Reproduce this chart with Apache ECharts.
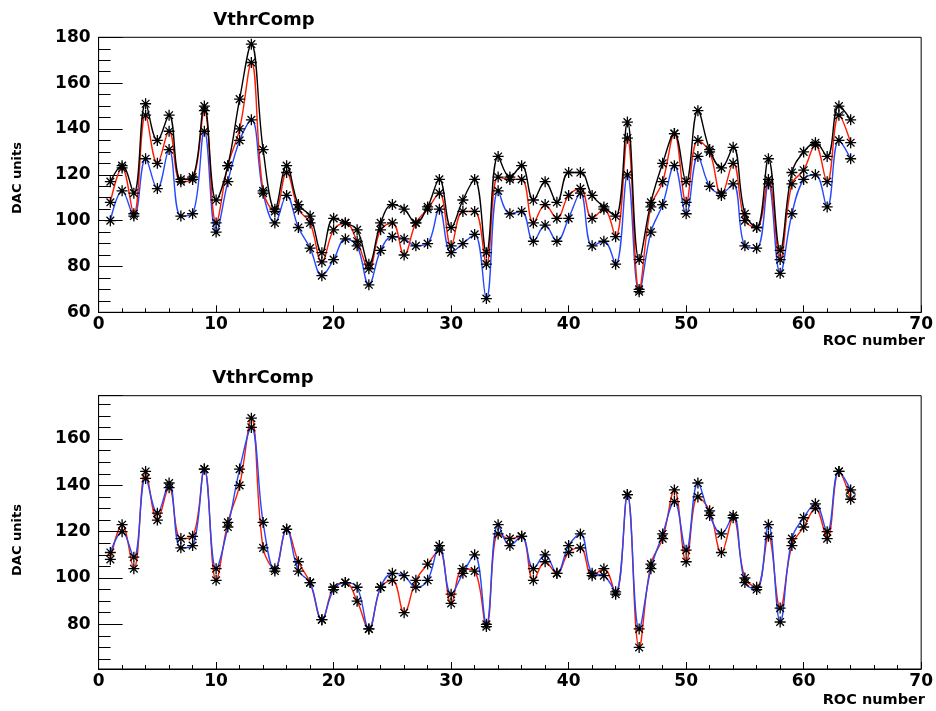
<!DOCTYPE html>
<html>
<head>
<meta charset="utf-8">
<title>VthrComp</title>
<script src="https://cdn.jsdelivr.net/npm/echarts@6/dist/echarts.min.js"></script>
<style>
  html, body { margin: 0; padding: 0; background: #fff; }
  #chart { width: 936px; height: 711px; }
</style>
</head>
<body>
<div id="chart"></div>
<script>
// ROC index along the module
const roc = [1, 2, 3, 4, 5, 6, 7, 8, 9, 10, 11, 12, 13, 14, 15, 16,
  17, 18, 19, 20, 21, 22, 23, 24, 25, 26, 27, 28, 29, 30, 31, 32,
  33, 34, 35, 36, 37, 38, 39, 40, 41, 42, 43, 44, 45, 46, 47, 48,
  49, 50, 51, 52, 53, 54, 55, 56, 57, 58, 59, 60, 61, 62, 63, 64];

// Upper pad: three VthrComp settings per ROC (DAC units)
const topBlack = [117, 124, 112, 151, 135, 146, 118, 119, 150, 109, 124, 153, 177, 131, 105, 124,
  107, 102, 86, 101, 99, 96, 81, 99, 107, 105, 99, 106, 118, 97, 109, 118,
  86, 128, 119, 124, 109, 117, 108, 121, 121, 111, 106, 102, 143, 83, 108, 125,
  138, 117, 148, 131, 123, 132, 103, 97, 127, 87, 121, 130, 134, 128, 150, 144];
const topRed = [108, 123, 103, 146, 125, 139, 117, 118, 148, 99, 124, 140, 169, 113, 104, 121,
  105, 99, 82, 96, 99, 91, 79, 96, 99, 85, 99, 105, 112, 89, 104, 104,
  81, 119, 118, 118, 99, 107, 101, 111, 114, 101, 105, 93, 136, 70, 106, 117,
  138, 108, 135, 130, 111, 125, 100, 97, 118, 83, 116, 122, 133, 117, 146, 134];
const topBlue = [100, 113, 102, 127, 114, 131, 102, 103, 139, 95, 117, 135, 144, 112, 99, 111,
  97, 88, 76, 83, 92, 89, 72, 87, 93, 92, 89, 90, 105, 86, 90, 94,
  66, 113, 103, 104, 91, 98, 91, 101, 112, 89, 91, 81, 120, 69, 95, 107,
  124, 103, 128, 115, 112, 116, 89, 88, 116, 77, 103, 118, 120, 106, 135, 127];
const topOpen = [[63, 148]];

// Lower pad: two settings per ROC (DAC units)
const lowRed = [108, 123, 104, 146, 125, 139, 117, 118, 147, 99, 124, 140, 169, 113, 104, 121,
  107, 98, 82, 96, 98, 90, 78, 96, 99, 85, 99, 106, 112, 89, 104, 103,
  79, 119, 117, 118, 99, 107, 102, 111, 113, 101, 104, 93, 136, 70, 106, 117,
  138, 107, 135, 129, 111, 126, 100, 96, 118, 87, 114, 122, 130, 117, 146, 134];
const lowBlue = [111, 120, 109, 143, 128, 141, 113, 114, 147, 104, 122, 147, 165, 124, 103, 121,
  103, 98, 82, 95, 98, 96, 78, 96, 102, 101, 96, 99, 114, 93, 102, 110,
  80, 123, 114, 118, 104, 110, 102, 114, 119, 102, 101, 94, 136, 78, 104, 119,
  133, 112, 141, 127, 119, 127, 98, 95, 123, 81, 117, 126, 132, 120, 146, 138];
const lowOpen = [[64, 136]];

// Axis ranges and tick labels
const xRange = [0, 70];
const topYRange = [60, 180];
const lowYRange = [60.7, 178.7];
const titleText = 'VthrComp';
const xName = 'ROC number';
const yName = 'DAC units';

const pairs = (xs, ys) => xs.map((x, i) => [x, ys[i]]);

const FONT = '"DejaVu Sans", "Liberation Sans", sans-serif';
const STAR = 'path://M0,5L10,5M5,0L5,10M1.5,1.5L8.5,8.5M8.5,1.5L1.5,8.5';

function xAxisCfg(gridIndex) {
  return {
    type: 'value', gridIndex, min: xRange[0], max: xRange[1], interval: 10,
    axisLine: { show: true, onZero: false, lineStyle: { color: '#000', width: 1 } },
    axisTick: { show: true, inside: true, length: 7, lineStyle: { color: '#000', width: 1 } },
    minorTick: { show: true, splitNumber: 5, length: 4, lineStyle: { color: '#000', width: 1 } },
    splitLine: { show: false },
    axisLabel: { show: true, margin: 4, color: '#000', fontFamily: FONT, fontWeight: 'bold', fontSize: 17 }
  };
}

function yAxisCfg(gridIndex, range, interval) {
  const cfg = {
    type: 'value', gridIndex, min: range[0], max: range[1],
    axisLine: { show: true, onZero: false, lineStyle: { color: '#000', width: 1 } },
    axisTick: { show: true, inside: true, length: 24, lineStyle: { color: '#000', width: 1 } },
    minorTick: { show: true, splitNumber: 4, length: 12, lineStyle: { color: '#000', width: 1 } },
    splitLine: { show: false },
    axisLabel: { show: true, margin: 8, color: '#000', fontFamily: FONT, fontWeight: 'bold', fontSize: 17 }
  };
  if (interval) {
    cfg.interval = interval;
  } else {
    cfg.splitNumber = 5;
    cfg.axisLabel.showMinLabel = false;
    cfg.axisLabel.showMaxLabel = false;
  }
  return cfg;
}

function curve(name, data, color, axisIndex) {
  return {
    name, type: 'line', data, xAxisIndex: axisIndex, yAxisIndex: axisIndex,
    smooth: 0.4, showSymbol: true, symbol: STAR, symbolSize: 11,
    itemStyle: { color: '#000', borderColor: '#000', borderWidth: 1.3 },
    lineStyle: { color, width: 1.4 },
    emphasis: { disabled: true }, animation: false
  };
}

function openMarks(data, axisIndex) {
  return {
    type: 'scatter', data, xAxisIndex: axisIndex, yAxisIndex: axisIndex,
    symbol: 'circle', symbolSize: 9,
    itemStyle: { color: 'rgba(0,0,0,0)', borderColor: '#000', borderWidth: 1.1 },
    emphasis: { disabled: true }, animation: false, z: 5
  };
}

function label(text, x, y, size, align, rotate) {
  return {
    type: 'text', x, y, rotation: rotate ? Math.PI / 2 : 0,
    style: {
      text, fill: '#000', align: align, verticalAlign: 'middle',
      font: 'bold ' + size + 'px ' + FONT
    }
  };
}

const chart = echarts.init(document.getElementById('chart'), null, { renderer: 'canvas' });
chart.setOption({
  backgroundColor: '#fff',
  animation: false,
  grid: [
    { left: 98.6, top: 37.3, width: 825, height: 275, show: true, borderColor: '#000', borderWidth: 1, backgroundColor: 'transparent' },
    { left: 98.6, top: 395.7, width: 825, height: 273.3, show: true, borderColor: '#000', borderWidth: 1, backgroundColor: 'transparent' }
  ],
  xAxis: [xAxisCfg(0), xAxisCfg(1)],
  yAxis: [yAxisCfg(0, topYRange, 20), yAxisCfg(1, lowYRange, null)],
  series: [
    curve('top-blue', pairs(roc, topBlue), '#2448ff', 0),
    curve('top-red', pairs(roc, topRed), '#ff1a00', 0),
    curve('top-black', pairs(roc, topBlack), '#000000', 0),
    openMarks(topOpen, 0),
    curve('low-red', pairs(roc, lowRed), '#ff1a00', 1),
    curve('low-blue', pairs(roc, lowBlue), '#2448ff', 1),
    openMarks(lowOpen, 1)
  ],
  graphic: [
    label(titleText, 264, 20, 18, 'center', false),
    label(titleText, 263, 378, 18, 'center', false),
    label(xName, 925, 341, 14.5, 'right', false),
    label(xName, 925, 700, 14.5, 'right', false),
    label(yName, 18, 178, 13, 'center', true),
    label(yName, 18, 540, 13, 'center', true)
  ]
});
</script>
</body>
</html>
